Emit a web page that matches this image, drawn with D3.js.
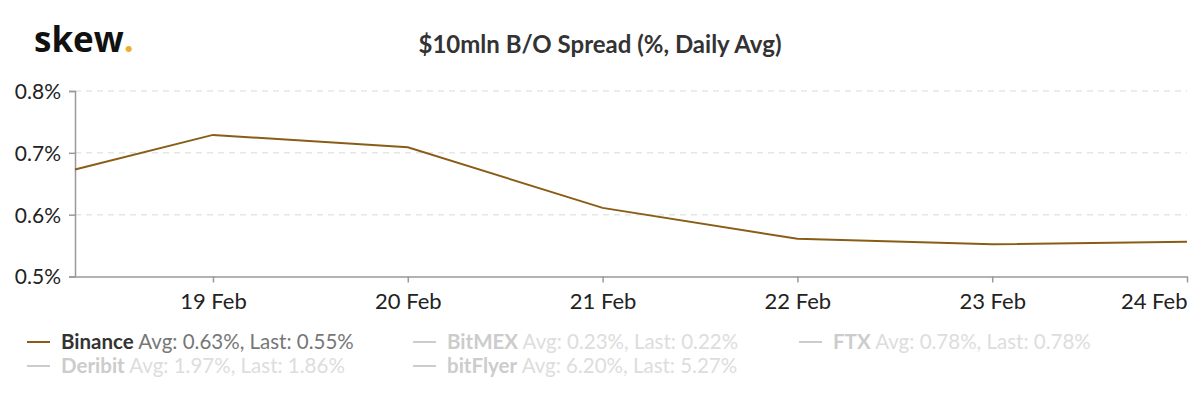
<!DOCTYPE html>
<html>
<head>
<meta charset="utf-8">
<script src="https://cdn.jsdelivr.net/npm/d3@7"></script>
<style>
body { margin: 0; background: #fff; }
svg { font-family: Lato, "Open Sans", sans-serif; }
</style>
</head>
<body>
<svg width="1200" height="399"></svg>
<script>
// Binance daily avg spread (%)
var dates = ["2020-02-18T07:00", "2020-02-19T00:00", "2020-02-20T00:00", "2020-02-21T00:00",
             "2020-02-22T00:00", "2020-02-23T00:00", "2020-02-24T00:00"];
var binance = [0.673, 0.729, 0.709, 0.611, 0.561, 0.552, 0.556];
var yTicks = [0.5, 0.6, 0.7, 0.8];
var xTicks = ["2020-02-19", "2020-02-20", "2020-02-21", "2020-02-22", "2020-02-23", "2020-02-24"];

var legendNames = ["Binance", "BitMEX", "FTX", "Deribit", "bitFlyer"];
var legendStats = ["Avg: 0.63%, Last: 0.55%", "Avg: 0.23%, Last: 0.22%", "Avg: 0.78%, Last: 0.78%",
                   "Avg: 1.97%, Last: 1.86%", "Avg: 6.20%, Last: 5.27%"];
var legendActive = [true, false, false, false, false];

var lineColor = "#8a5d17";
var parse = d3.isoParse;

var svg = d3.select("svg");

var x = d3.scaleTime()
  .domain([parse("2020-02-18T07:00"), parse("2020-02-24T00:00")])
  .range([75, 1187]);
var y = d3.scaleLinear().domain([0.5, 0.8]).range([276.5, 91]);

// logo
var logo = svg.append("text")
  .attr("x", 34).attr("y", 52)
  .style("font-family", "'Open Sans', sans-serif")
  .style("font-weight", "bold")
  .style("font-size", "35px")
  .style("fill", "#111");
logo.append("tspan").text("skew");
logo.append("tspan").text(".").style("fill", "#f0ac2e");

// title
svg.append("text")
  .attr("x", 600).attr("y", 53)
  .attr("text-anchor", "middle")
  .style("font-size", "24px")
  .style("font-weight", "bold")
  .style("fill", "#333")
  .text("$10mln B/O Spread (%, Daily Avg)");

// grid
svg.append("g").selectAll("line")
  .data(yTicks.filter(function(d) { return d > 0.5; }))
  .enter().append("line")
  .attr("x1", 75).attr("x2", 1187)
  .attr("y1", function(d) { return y(d); })
  .attr("y2", function(d) { return y(d); })
  .attr("stroke", "#e6e6e6")
  .attr("stroke-width", 1.5)
  .attr("stroke-dasharray", "6,5");

// Y axis
var yAxis = svg.append("g")
  .attr("transform", "translate(75,0)")
  .call(d3.axisLeft(y).tickValues(yTicks).tickSize(6).tickPadding(8)
    .tickFormat(function(d) { return d3.format(".1f")(d) + "%"; }));

// X axis
var xAxis = svg.append("g")
  .attr("transform", "translate(0,276.5)")
  .call(d3.axisBottom(x).tickValues(xTicks.map(function(d) { return parse(d); }))
    .tickSize(6).tickSizeOuter(0).tickPadding(11)
    .tickFormat(d3.timeFormat("%-d Feb")));

[yAxis, xAxis].forEach(function(a) {
  a.select(".domain").attr("stroke", "#999").attr("stroke-width", 1.5);
  a.selectAll(".tick line").attr("stroke", "#999").attr("stroke-width", 1.5);
  a.selectAll(".tick text")
    .style("font-family", "Lato, sans-serif")
    .style("fill", "#222");
});
yAxis.selectAll(".tick text").style("font-size", "21px").attr("dy", "0.35em");
xAxis.selectAll(".tick text").style("font-size", "22px")
  .attr("text-anchor", function(d, i) {
    return i === xTicks.length - 1 ? "end" : "middle";
  });

// line
var line = d3.line()
  .x(function(d, i) { return x(parse(dates[i])); })
  .y(function(d) { return y(d); });

svg.append("path")
  .datum(binance)
  .attr("fill", "none")
  .attr("stroke", lineColor)
  .attr("stroke-width", 2)
  .attr("d", line);

// legend
var colX = [27, 413, 799];
var rowY = [342, 366];
var leg = svg.append("g").selectAll("g")
  .data(legendNames)
  .enter().append("g")
  .attr("transform", function(d, i) {
    return "translate(" + colX[i % 3] + "," + rowY[Math.floor(i / 3)] + ")";
  });

leg.append("line")
  .attr("x1", 0).attr("x2", 23)
  .attr("y1", 0).attr("y2", 0)
  .attr("stroke", function(d, i) { return legendActive[i] ? lineColor : "#ccc"; })
  .attr("stroke-width", 2);

var lt = leg.append("text")
  .attr("x", 34).attr("y", 7)
  .style("font-size", "20.5px");
lt.append("tspan")
  .style("font-weight", "bold")
  .style("fill", function(d, i) { return legendActive[i] ? "#333" : "#ccc"; })
  .text(function(d) { return d; });
lt.append("tspan")
  .style("font-weight", "normal")
  .style("fill", function(d, i) { return legendActive[i] ? "#777" : "#ddd"; })
  .text(function(d, i) { return " " + legendStats[i]; });
</script>
</body>
</html>
